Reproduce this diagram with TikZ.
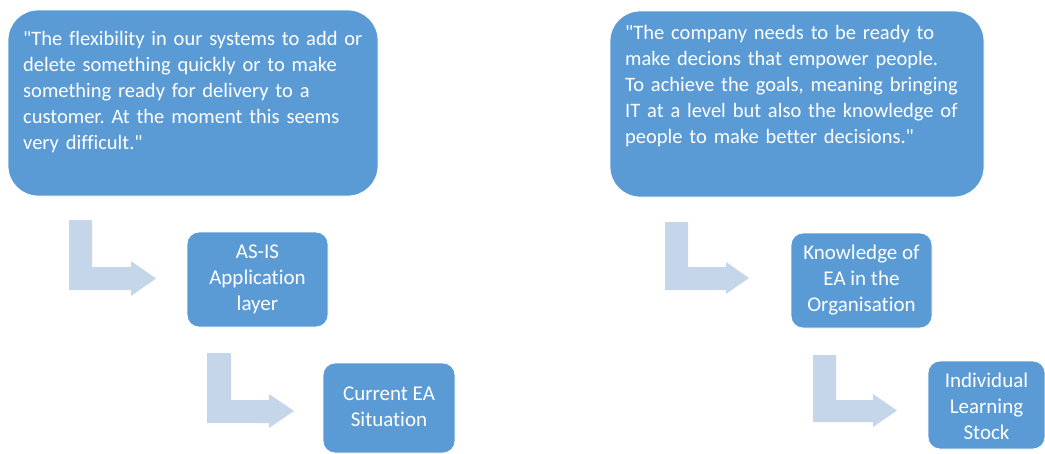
\documentclass[tikz,border=0pt]{standalone}
\usepackage{fontspec}
\setmainfont{Carlito}[Ligatures={TeXOff,NoCommon,NoContextual}]
\begin{document}
\begin{tikzpicture}[x=1pt,y=-1pt,
  bigbox/.style={draw=white, line width=0.8pt, fill=boxblue, rounded corners=30pt, inner sep=0pt},
  smallbox/.style={draw=white, line width=0.8pt, fill=boxblue, rounded corners=12pt, inner sep=0pt, text=white, align=center, font=\frenchspacing\fontsize{21}{26}\selectfont},
  quote/.style={text=white, align=left, inner sep=0pt, anchor=north west, font=\frenchspacing\fontsize{20.5}{26}\selectfont},
  bentarrow/.style={fill=arrowblue, draw=none}]
\definecolor{boxblue}{HTML}{5B9BD5}
\definecolor{arrowblue}{HTML}{C5D5EA}
\useasboundingbox (0,0) rectangle (1045,453);

% big quote boxes
\node[bigbox, minimum width=370pt, minimum height=186pt] (q1) at (193,103) {};
\node[quote, text width=355pt] (q1t) at (23,31) {"The flexibility in our systems to add or\\ delete something quickly or to make\\ something ready for delivery to a\\ customer. At the moment this seems\\ very difficult."};

\node[bigbox, minimum width=374pt, minimum height=186pt] (q2) at (797,104) {};
\node[quote, text width=360pt] (q2t) at (625,25) {"The company needs to be ready to\\ make decions that empower people.\\ To achieve the goals, meaning bringing\\ IT at a level but also the knowledge of\\ people to make better decisions."};

% small boxes
\node[smallbox, minimum width=141pt, minimum height=95pt] (asis) at (257.5,279.5) {\strut AS-IS\\ Application\\ layer\strut};
\node[smallbox, minimum width=132pt, minimum height=90pt] (cur) at (389,408) {\strut Current EA\\ Situation\strut};
\node[smallbox, minimum width=141pt, minimum height=95pt] (know) at (861.5,280.5) {\strut Knowledge of\\ EA in the\\ Organisation\strut};
\node[smallbox, minimum width=117pt, minimum height=88pt, text depth=2pt] (ind) at (986.5,405) {\strut Individual\\ Learning\\ Stock\strut};

% bent arrows
\fill[bentarrow] (69,220) -- (92,220) -- (92,267) -- (131,267) -- (131,261) -- (156,278.5) -- (131,296) -- (131,290) -- (69,290) -- cycle;
\fill[bentarrow] (207,353) -- (231,353) -- (231,400) -- (269,400) -- (269,394) -- (294,411) -- (269,428) -- (269,423) -- (207,423) -- cycle;
\fill[bentarrow] (665,222) -- (688,222) -- (688,267) -- (726,267) -- (726,262) -- (749,278) -- (726,294) -- (726,290) -- (665,290) -- cycle;
\fill[bentarrow] (813,355) -- (836,355) -- (836,400) -- (873,400) -- (873,394) -- (897,410.5) -- (873,427) -- (873,422) -- (813,422) -- cycle;
\end{tikzpicture}
\end{document}
